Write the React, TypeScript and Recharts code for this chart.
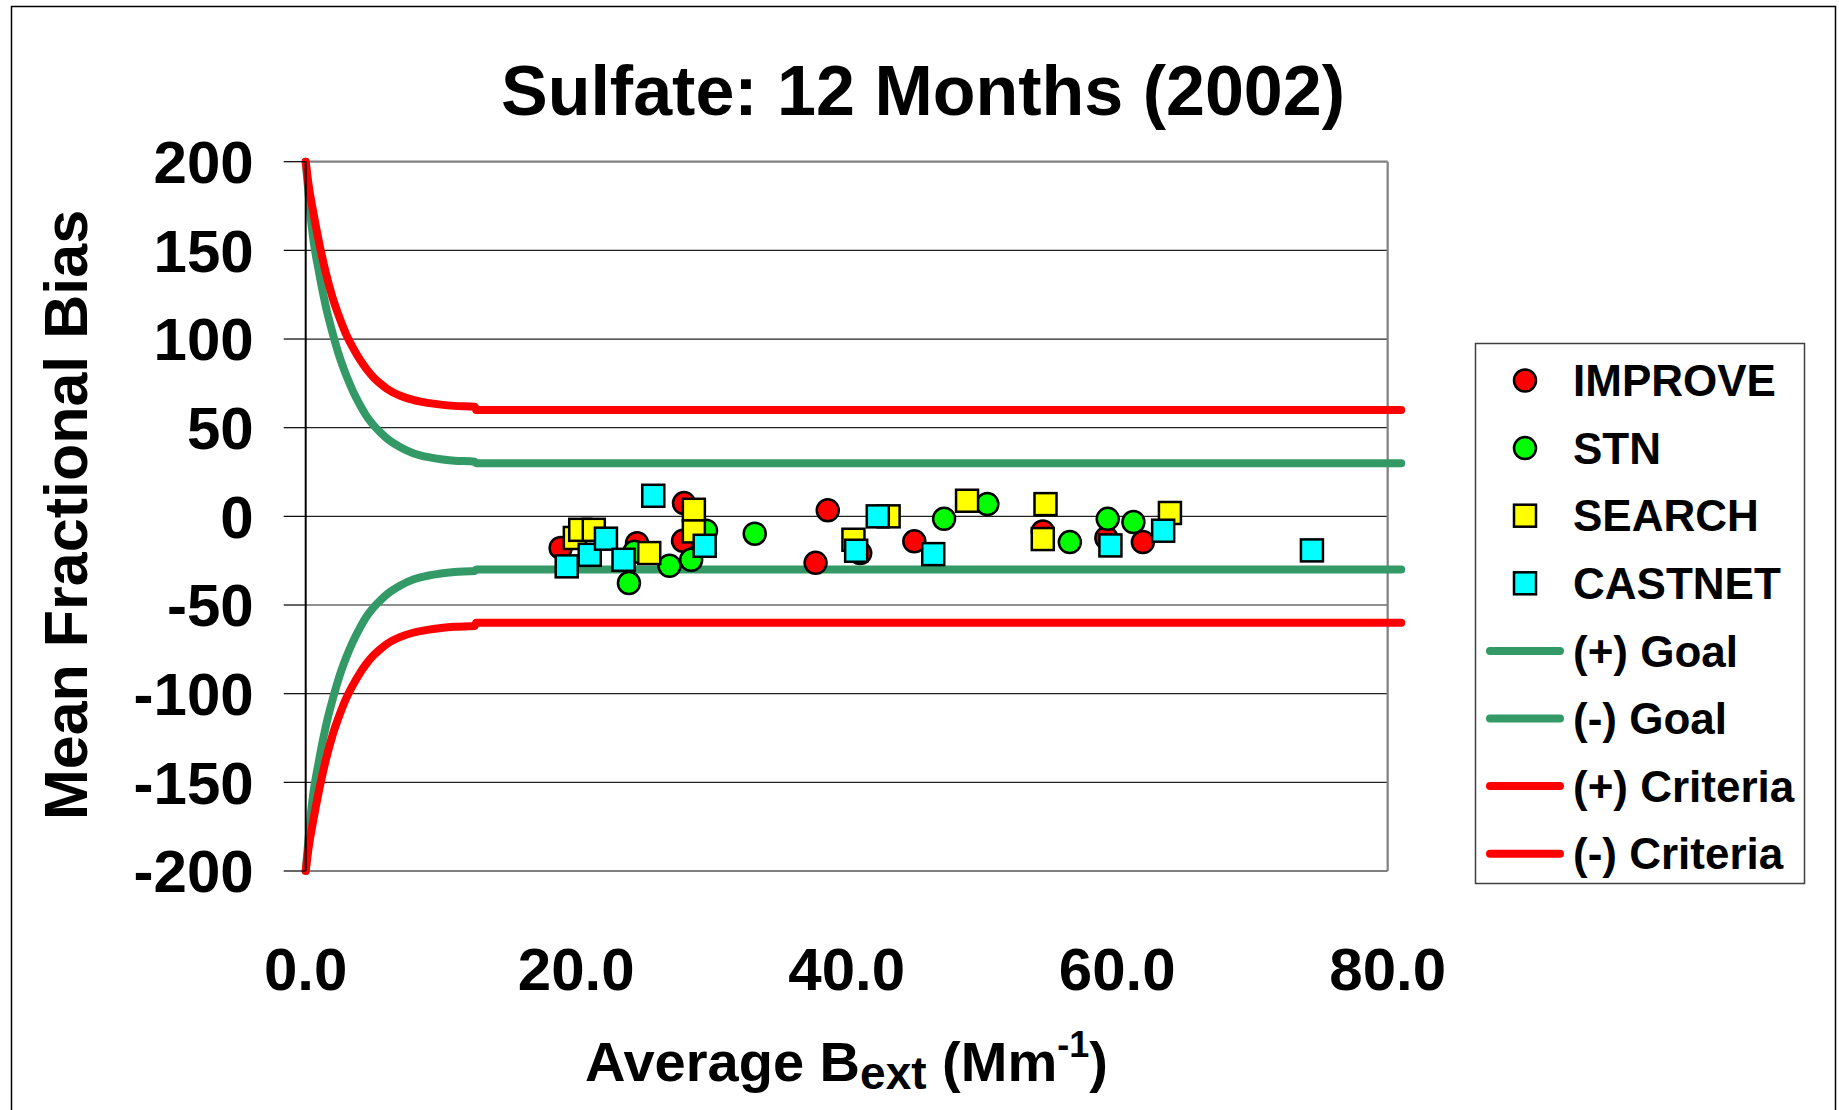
import { ComposedChart, Line, Scatter, XAxis, YAxis, ReferenceLine } from "recharts";

const FONT = '"Liberation Sans", Arial, Helvetica, sans-serif';

// network means as [average Bext, mean fractional bias]
const improve: [number, number][] = [
    [18.85, -17.8], [24.5, -15.1], [27.97, 7.5], [27.9, -13.8], [37.7, -26.2],
    [38.6, 3.4], [41.0, -20.7], [45.0, -14.1], [54.5, -8.5], [59.2, -12.2], [61.9, -14.5],
];
const stn: [number, number][] = [
    [24.3, -20], [23.9, -37.6], [26.9, -27.9], [28.5, -24.5], [29.6, -8.1], [33.2, -9.8],
    [47.2, -1.4], [50.4, 6.9], [56.5, -14.5], [59.3, -1.4], [61.2, -3.2],
];
const search: [number, number][] = [
    [19.9, -12.2], [20.3, -7.6], [21.3, -7.6], [25.4, -20.7], [28.7, 3.7], [28.7, -8.5],
    [40.5, -13.2], [43.1, 0], [48.9, 8.8], [54.7, 6.9], [54.5, -12.8], [63.9, 1.9],
];
const castnet: [number, number][] = [
    [19.3, -28.2], [21.0, -21.7], [22.2, -12.6], [23.5, -24.5], [25.7, 11.6], [29.5, -16.6],
    [40.7, -19.4], [42.3, 0], [46.4, -21.3], [59.5, -16.4], [63.4, -8.1], [74.4, -19.2],
];

// goal / criteria envelopes, upper half (the lower half mirrors it)
const goalX = [0, 0.15, 0.5, 1, 1.5, 2, 2.5, 3, 3.5, 4, 4.5, 5, 5.5, 6, 7, 8, 9, 10, 11, 12.5, 12.6, 81];
const goalUpper = [200, 187, 160, 137, 118, 103, 90, 79.5, 70.5, 63, 56.5, 51.5, 47.5, 44, 39, 35.5, 33.5, 32.2, 31.4, 30.8, 30, 30];
const criteriaX = [0, 0.25, 0.5, 1, 1.5, 2, 2.5, 3, 3.5, 4, 4.5, 5, 5.5, 6, 7, 8, 9, 10, 11, 12.5, 12.6, 81];
const criteriaUpper = [200, 185, 174, 154, 137, 123, 112, 102.5, 95, 88.5, 83, 78.5, 75, 72, 68, 65.5, 64, 63, 62.3, 61.8, 60, 60];

const xTicks = [0, 20, 40, 60, 80];
const yTicks = [200, 150, 100, 50, 0, -50, -100, -150, -200];

const GOAL = "#339966";
const CRIT = "#ff0000";

const legendItems = [
    { label: "IMPROVE", color: "#ff0000", kind: "circle" },
    { label: "STN", color: "#00ff00", kind: "circle" },
    { label: "SEARCH", color: "#ffff00", kind: "square" },
    { label: "CASTNET", color: "#00ffff", kind: "square" },
    { label: "(+) Goal", color: GOAL, kind: "line" },
    { label: "(-) Goal", color: GOAL, kind: "line" },
    { label: "(+) Criteria", color: CRIT, kind: "line" },
    { label: "(-) Criteria", color: CRIT, kind: "line" },
];

const toPoints = (pairs: [number, number][]) => pairs.map(([x, y]) => ({ x, y }));
const curve = (xs: number[], ys: number[], sign: number) =>
    xs.map((x, i) => ({ x, y: sign * ys[i] }));

const dot = (fill: string) => (p: any) =>
    <circle cx={p.cx} cy={p.cy} r={11} fill={fill} stroke="#000" strokeWidth={2.5} />;
const box = (fill: string) => (p: any) =>
    <rect x={p.cx - 11} y={p.cy - 11} width={22} height={22} fill={fill} stroke="#000" strokeWidth={2.5} />;

const tickStyle = { fill: "#000", fontSize: 60, fontWeight: 700, fontFamily: FONT };

export default function App() {
    const lineProps = {
        type: "monotone" as const,
        dataKey: "y",
        dot: false,
        activeDot: false,
        strokeWidth: 8,
        strokeLinecap: "round" as const,
        strokeLinejoin: "round" as const,
        isAnimationActive: false,
    };

    return (
        <div style={{ position: "absolute", left: 0, top: 0, width: 1839, height: 1110, background: "#fff" }}>
            <ComposedChart
                width={1839}
                height={1110}
                margin={{ top: 161.7, right: 437.8, bottom: 139, left: 0 }}
            >
                <XAxis
                    type="number"
                    dataKey="x"
                    domain={[0, 81]}
                    ticks={xTicks}
                    interval={0}
                    tickFormatter={(v) => Number(v).toFixed(1)}
                    axisLine={false}
                    tickLine={false}
                    tickSize={0}
                    tickMargin={76}
                    height={100}
                    tick={tickStyle}
                />
                <YAxis
                    type="number"
                    dataKey="y"
                    domain={[-200, 200]}
                    ticks={yTicks}
                    interval={0}
                    width={305.7}
                    tickSize={22}
                    tickMargin={30}
                    axisLine={{ stroke: "#000", strokeWidth: 2 }}
                    tickLine={{ stroke: "#000", strokeWidth: 1.2 }}
                    tick={tickStyle}
                />

                {yTicks.map((v) => (
                    <ReferenceLine
                        key={v}
                        segment={[{ x: 0, y: v }, { x: 80, y: v }]}
                        stroke={Math.abs(v) === 200 ? "#808080" : "#222"}
                        strokeWidth={Math.abs(v) === 200 ? 2.2 : 1.2}
                    />
                ))}
                <ReferenceLine
                    segment={[{ x: 80, y: -200 }, { x: 80, y: 200 }]}
                    stroke="#808080"
                    strokeWidth={2.2}
                />

                <Line data={curve(goalX, goalUpper, 1)} stroke={GOAL} {...lineProps} />
                <Line data={curve(goalX, goalUpper, -1)} stroke={GOAL} {...lineProps} />
                <Line data={curve(criteriaX, criteriaUpper, 1)} stroke={CRIT} {...lineProps} />
                <Line data={curve(criteriaX, criteriaUpper, -1)} stroke={CRIT} {...lineProps} />

                <Scatter data={toPoints(improve)} dataKey="y" shape={dot("#ff0000")} isAnimationActive={false} />
                <Scatter data={toPoints(stn)} dataKey="y" shape={dot("#00ff00")} isAnimationActive={false} />
                <Scatter data={toPoints(search)} dataKey="y" shape={box("#ffff00")} isAnimationActive={false} />
                <Scatter data={toPoints(castnet)} dataKey="y" shape={box("#00ffff")} isAnimationActive={false} />
            </ComposedChart>

            <svg
                width={1839}
                height={1110}
                style={{ position: "absolute", left: 0, top: 0, pointerEvents: "none" }}
                fontFamily={FONT}
                fontWeight={700}
            >
                <rect x={11.5} y={6.5} width={1824} height={1120} fill="none" stroke="#000" strokeWidth={1.5} />

                <text x={923} y={115} textAnchor="middle" fontSize={70}>
                    Sulfate: 12 Months (2002)
                </text>

                <text x={87} y={515} textAnchor="middle" fontSize={61} transform="rotate(-90 87 515)">
                    Mean Fractional Bias
                </text>

                <text x={846.5} y={1081} textAnchor="middle" fontSize={56}>
                    <tspan>Average B</tspan>
                    <tspan fontSize={46} dy={8}>ext</tspan>
                    <tspan dy={-8}> (Mm</tspan>
                    <tspan fontSize={36} dy={-24}>-1</tspan>
                    <tspan dy={24}>)</tspan>
                </text>

                <rect x={1475.5} y={343.5} width={329} height={540} fill="#fff" stroke="#404040" strokeWidth={1.5} />
                {legendItems.map((item, i) => {
                    const cy = 380.5 + i * 67.6;
                    return (
                        <g key={item.label}>
                            {item.kind === "circle" && (
                                <circle cx={1525} cy={cy} r={11} fill={item.color} stroke="#000" strokeWidth={2.5} />
                            )}
                            {item.kind === "square" && (
                                <rect x={1514} y={cy - 11} width={22} height={22} fill={item.color} stroke="#000" strokeWidth={2.5} />
                            )}
                            {item.kind === "line" && (
                                <line x1={1490} y1={cy} x2={1560} y2={cy} stroke={item.color} strokeWidth={8} strokeLinecap="round" />
                            )}
                            <text x={1573} y={cy + 15.6} fontSize={44}>
                                {item.label}
                            </text>
                        </g>
                    );
                })}
            </svg>
        </div>
    );
}
